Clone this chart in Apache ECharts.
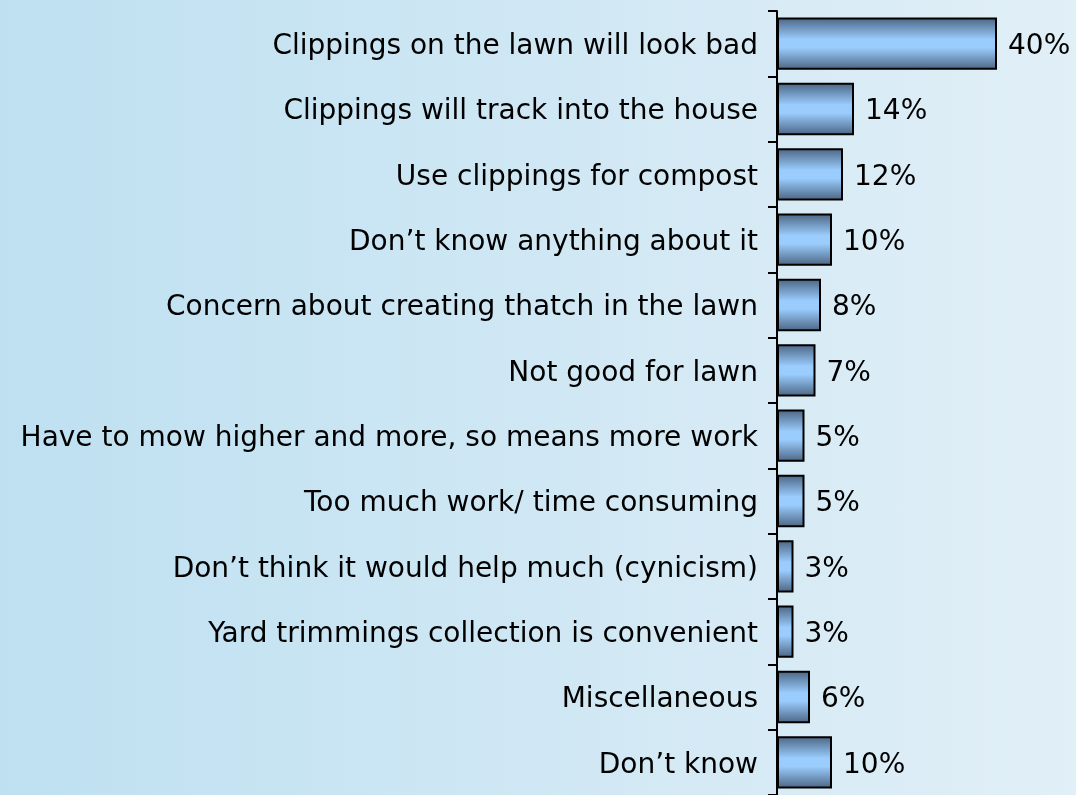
<!DOCTYPE html>
<html>
<head>
<meta charset="utf-8">
<script src="https://cdn.jsdelivr.net/npm/echarts@6/dist/echarts.min.js"></script>
<style>
  html, body { margin: 0; padding: 0; }
  #chart {
    width: 1076px; height: 795px;
    background: linear-gradient(to right, #bee0f1, #e1eff7);
  }
</style>
</head>
<body>
<div id="chart"></div>
<script>
// Reasons given for not leaving grass clippings on the lawn (% of respondents)
const categories = [
  'Clippings on the lawn will look bad',
  'Clippings will track into the house',
  'Use clippings for compost',
  'Don\u2019t know anything about it',
  'Concern about creating thatch in the lawn',
  'Not good for lawn',
  'Have to mow higher and more, so means more work',
  'Too much work/ time consuming',
  'Don\u2019t think it would help much (cynicism)',
  'Yard trimmings collection is convenient',
  'Miscellaneous',
  'Don\u2019t know'
];
const percentages = [40, 14, 12, 10, 8, 7, 5, 5, 3, 3, 6, 10];

const FONT = 'DejaVu Sans, Verdana, sans-serif';

const chart = echarts.init(document.getElementById('chart'), null, { renderer: 'canvas' });
chart.setOption({
  backgroundColor: 'transparent',
  animation: false,
  grid: { left: 777, top: 11, width: 275, height: 787, containLabel: false },
  xAxis: {
    type: 'value', min: 0, max: 50,
    show: false
  },
  yAxis: {
    type: 'category',
    data: categories,
    inverse: true,
    axisLine: { show: true, lineStyle: { color: '#000', width: 2 } },
    axisTick: { show: true, length: 9, lineStyle: { color: '#000', width: 2 } },
    axisLabel: {
      margin: 19, color: '#000', fontSize: 28, fontFamily: FONT,
      formatter: v => '{t|' + v + '}',
      rich: { t: { fontSize: 28, fontFamily: FONT, color: '#000', padding: [6, 0, 0, 0] } }
    }
  },
  series: [{
    type: 'bar',
    data: percentages,
    barCategoryGap: '20%',
    itemStyle: {
      borderColor: '#000',
      borderWidth: 2,
      color: new echarts.graphic.LinearGradient(0, 0, 0, 1, [
        { offset: 0, color: '#4a6482' },
        { offset: 0.42, color: '#9accfd' },
        { offset: 0.58, color: '#9accfd' },
        { offset: 1, color: '#4a6482' }
      ])
    },
    label: {
      show: true, position: 'right', distance: 8, offset: [3, 3],
      formatter: '{c}%', color: '#000', fontSize: 28, fontFamily: FONT
    }
  }]
});
</script>
</body>
</html>
